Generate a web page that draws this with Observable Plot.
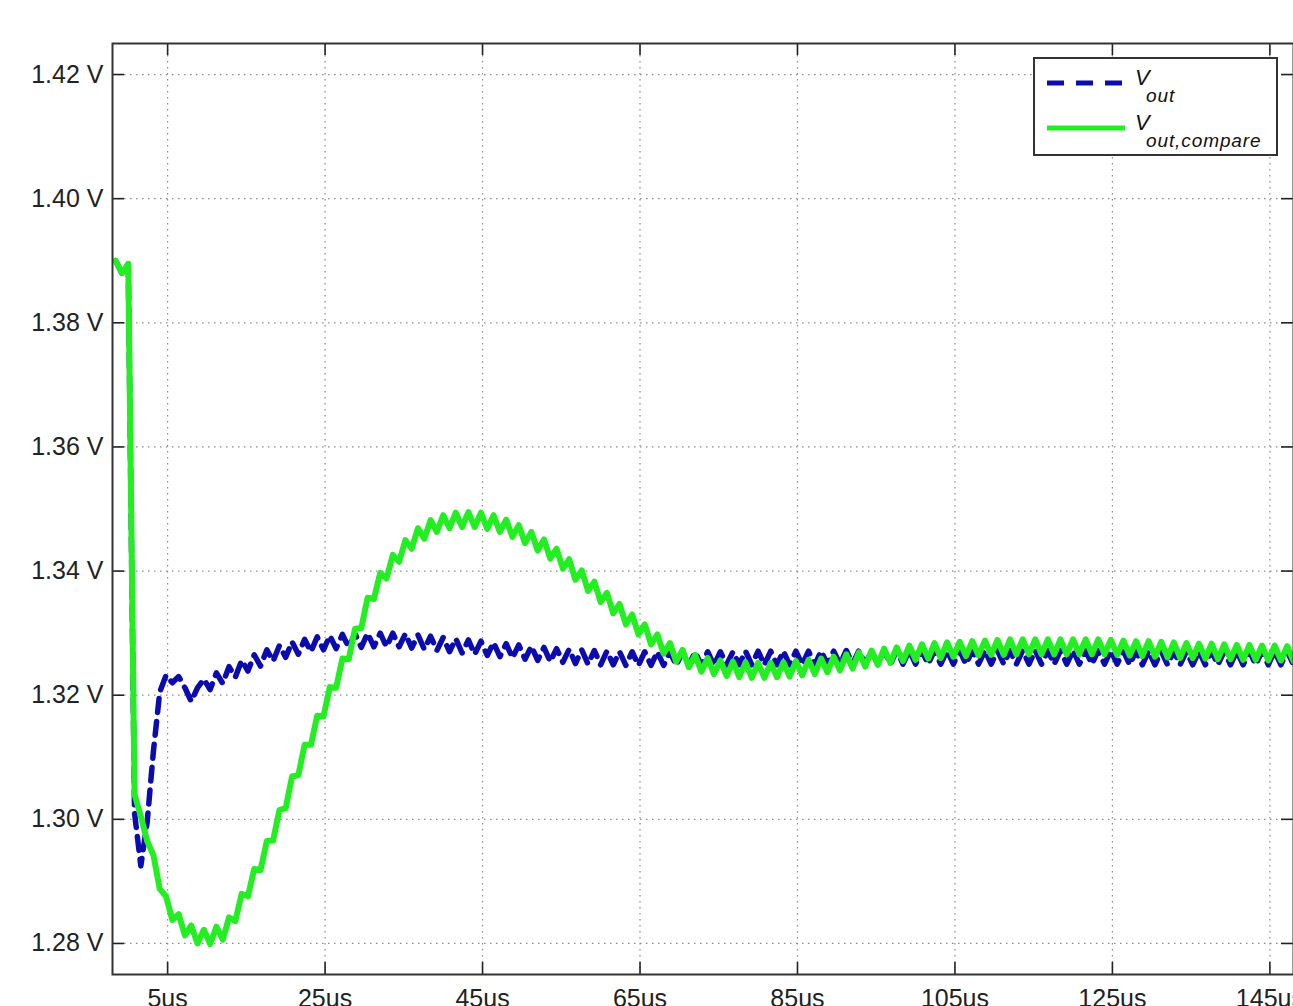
<!DOCTYPE html>
<html>
<head>
<meta charset="utf-8">
<script src="https://cdn.jsdelivr.net/npm/d3@7"></script>
<script src="https://cdn.jsdelivr.net/npm/@observablehq/plot@0.6"></script>
<style>
  html, body { margin: 0; padding: 0; background: white; overflow: hidden; }
  #wrap { position: relative; width: 1293px; height: 1006px; }
  #wrap svg { display: block; }
  #legend { position: absolute; left: 1033px; top: 57px; width: 245px; height: 99px; box-sizing: border-box;
            border: 2px solid #333; background: white; }
  #legend svg { position: absolute; left: -2px; top: -2px; }
</style>
</head>
<body>
<div id="wrap"></div>
<script>
// ---- data ----
const xTicks = [5, 25, 45, 65, 85, 105, 125, 145];
const yTicks = [1.28, 1.30, 1.32, 1.34, 1.36, 1.38, 1.40, 1.42];
const xDomain = [-2, 148];
const yDomain = [1.275, 1.425];
const tStart = -1.6;   // first sample time (us)
const tStep = 0.8;     // sample spacing (us)

const vOut = [
  1.3900, 1.3880, 1.3895, 1.3010, 1.2925, 1.2995, 1.3110, 1.3205, 1.3232, 1.3220,
  1.3230, 1.3212, 1.3190, 1.3212, 1.3226, 1.3209, 1.3236, 1.3219, 1.3246, 1.3229,
  1.3256, 1.3239, 1.3265, 1.3247, 1.3273, 1.3255, 1.3280, 1.3261, 1.3286, 1.3266,
  1.3290, 1.3270, 1.3294, 1.3273, 1.3296, 1.3275, 1.3298, 1.3277, 1.3299, 1.3277,
  1.3300, 1.3278, 1.3300, 1.3278, 1.3300, 1.3278, 1.3299, 1.3276, 1.3297, 1.3274,
  1.3295, 1.3272, 1.3293, 1.3270, 1.3291, 1.3268, 1.3289, 1.3266, 1.3287, 1.3264,
  1.3285, 1.3262, 1.3283, 1.3260, 1.3281, 1.3258, 1.3279, 1.3256, 1.3277, 1.3254,
  1.3275, 1.3253, 1.3274, 1.3251, 1.3273, 1.3250, 1.3272, 1.3249, 1.3271, 1.3249,
  1.3270, 1.3248, 1.3270, 1.3248, 1.3270, 1.3248, 1.3270, 1.3248, 1.3270, 1.3248,
  1.3270, 1.3248, 1.3270, 1.3248, 1.3270, 1.3248, 1.3270, 1.3249, 1.3270, 1.3249,
  1.3271, 1.3249, 1.3271, 1.3249, 1.3271, 1.3249, 1.3271, 1.3249, 1.3271, 1.3249,
  1.3271, 1.3249, 1.3271, 1.3250, 1.3271, 1.3250, 1.3272, 1.3250, 1.3272, 1.3250,
  1.3272, 1.3250, 1.3272, 1.3250, 1.3272, 1.3250, 1.3272, 1.3250, 1.3272, 1.3250,
  1.3272, 1.3250, 1.3272, 1.3250, 1.3272, 1.3250, 1.3272, 1.3250, 1.3272, 1.3250,
  1.3272, 1.3250, 1.3272, 1.3250, 1.3272, 1.3250, 1.3272, 1.3250, 1.3272, 1.3250,
  1.3272, 1.3250, 1.3272, 1.3250, 1.3272, 1.3250, 1.3272, 1.3250, 1.3272, 1.3250,
  1.3271, 1.3249, 1.3271, 1.3249, 1.3271, 1.3249, 1.3271, 1.3249, 1.3271, 1.3249,
  1.3271, 1.3249, 1.3271, 1.3249, 1.3271, 1.3249, 1.3271, 1.3249, 1.3271, 1.3249,
  1.3271, 1.3249, 1.3271, 1.3249, 1.3271, 1.3249, 1.3271, 1.3249
];

const vOutCompare = [
  1.3900, 1.3880, 1.3895, 1.3040, 1.3005, 1.2965, 1.2942, 1.2888, 1.2876, 1.2838,
  1.2847, 1.2813, 1.2829, 1.2800, 1.2822, 1.2799, 1.2827, 1.2806, 1.2842, 1.2836,
  1.2880, 1.2876, 1.2920, 1.2918, 1.2965, 1.2966, 1.3015, 1.3018, 1.3069, 1.3071,
  1.3120, 1.3120, 1.3167, 1.3166, 1.3213, 1.3212, 1.3259, 1.3258, 1.3307, 1.3308,
  1.3357, 1.3355, 1.3397, 1.3388, 1.3426, 1.3415, 1.3450, 1.3436, 1.3469, 1.3452,
  1.3482, 1.3463, 1.3490, 1.3469, 1.3494, 1.3471, 1.3495, 1.3471, 1.3494, 1.3468,
  1.3490, 1.3463, 1.3483, 1.3455, 1.3474, 1.3445, 1.3463, 1.3433, 1.3451, 1.3420,
  1.3436, 1.3404, 1.3419, 1.3386, 1.3401, 1.3368, 1.3383, 1.3350, 1.3365, 1.3332,
  1.3347, 1.3314, 1.3330, 1.3298, 1.3314, 1.3282, 1.3298, 1.3267, 1.3284, 1.3254,
  1.3273, 1.3245, 1.3265, 1.3238, 1.3260, 1.3234, 1.3256, 1.3231, 1.3254, 1.3229,
  1.3253, 1.3228, 1.3252, 1.3228, 1.3252, 1.3229, 1.3253, 1.3230, 1.3255, 1.3232,
  1.3257, 1.3234, 1.3259, 1.3237, 1.3262, 1.3240, 1.3266, 1.3243, 1.3269, 1.3246,
  1.3272, 1.3249, 1.3275, 1.3252, 1.3277, 1.3255, 1.3280, 1.3257, 1.3282, 1.3259,
  1.3284, 1.3260, 1.3285, 1.3262, 1.3286, 1.3263, 1.3287, 1.3264, 1.3288, 1.3265,
  1.3289, 1.3265, 1.3290, 1.3266, 1.3290, 1.3266, 1.3290, 1.3266, 1.3290, 1.3266,
  1.3290, 1.3266, 1.3290, 1.3266, 1.3290, 1.3266, 1.3290, 1.3266, 1.3289, 1.3265,
  1.3288, 1.3264, 1.3287, 1.3263, 1.3287, 1.3262, 1.3286, 1.3261, 1.3285, 1.3260,
  1.3284, 1.3260, 1.3283, 1.3259, 1.3283, 1.3258, 1.3282, 1.3258, 1.3281, 1.3257,
  1.3281, 1.3257, 1.3280, 1.3256, 1.3280, 1.3256, 1.3279, 1.3255
];

// ---- chart ----
const W = 1293, H = 1006;
const mTop = 43, mRight = 0, mBottom = 32, mLeft = 112;
const tickPx = 12;
const tickVy = (yDomain[1] - yDomain[0]) * tickPx / (H - mTop - mBottom);
const tickVx = (xDomain[1] - xDomain[0]) * tickPx / (W - mLeft - mRight);

const blueData = vOut.map((v, i) => ({t: tStart + i * tStep, v}));
const greenData = vOutCompare.map((v, i) => ({t: tStart + i * tStep, v}));

const gridStyle = {stroke: "#8a8a8a", strokeOpacity: 1, strokeWidth: 1.2, strokeDasharray: "1.5,4.5"};
const tickStyle = {stroke: "#222", strokeWidth: 1.6};

const chart = Plot.plot({
  width: W, height: H,
  marginTop: mTop, marginRight: mRight, marginBottom: mBottom, marginLeft: mLeft,
  style: {fontFamily: "'Liberation Sans', Arial, Helvetica, sans-serif", fontSize: "25px", color: "#222", background: "white"},
  x: {domain: xDomain, label: null},
  y: {domain: yDomain, label: null},
  marks: [
    Plot.gridX(xTicks, gridStyle),
    Plot.gridY(yTicks, gridStyle),
    Plot.axisX(xTicks, {anchor: "bottom", tickSize: 0, tickPadding: 15, tickFormat: d => d + "us", label: null}),
    Plot.axisY(yTicks, {anchor: "left", tickSize: 0, tickPadding: 9, tickFormat: d => d.toFixed(2) + " V", label: null}),
    // inward tick marks on all four sides
    Plot.ruleX(xTicks, {x: d => d, y1: yDomain[0], y2: yDomain[0] + tickVy, ...tickStyle}),
    Plot.ruleX(xTicks, {x: d => d, y1: yDomain[1], y2: yDomain[1] - tickVy, ...tickStyle}),
    Plot.ruleY(yTicks, {y: d => d, x1: xDomain[0], x2: xDomain[0] + tickVx, ...tickStyle}),
    Plot.ruleY(yTicks, {y: d => d, x1: xDomain[1], x2: xDomain[1] - tickVx, ...tickStyle}),
    Plot.line(blueData, {x: "t", y: "v", stroke: "#0c0cae", strokeWidth: 5.5, strokeDasharray: "14,9", strokeLinejoin: "round"}),
    Plot.line(greenData, {x: "t", y: "v", stroke: "#22ee22", strokeWidth: 6, strokeLinejoin: "round"}),
    Plot.frame({stroke: "#333", strokeWidth: 2})
  ]
});

const wrap = document.getElementById("wrap");
wrap.appendChild(chart);

// ---- legend ----
const legend = document.createElement("div");
legend.id = "legend";
legend.innerHTML = `
<svg width="245" height="99" xmlns="http://www.w3.org/2000/svg" font-family="'Liberation Sans', Arial, Helvetica, sans-serif" fill="#111">
  <line x1="14" x2="92" y1="26" y2="26" stroke="#0c0cae" stroke-width="5" stroke-dasharray="17,12"/>
  <line x1="14" x2="92" y1="71" y2="71" stroke="#22ee22" stroke-width="5"/>
  <text x="102" y="28" font-size="22" font-style="italic">V</text>
  <text x="113" y="45" font-size="19" font-style="italic" letter-spacing="0.9">out</text>
  <text x="102" y="73" font-size="22" font-style="italic">V</text>
  <text x="113" y="90" font-size="19" font-style="italic" letter-spacing="0.9">out,compare</text>
</svg>`;
wrap.appendChild(legend);
</script>
</body>
</html>
